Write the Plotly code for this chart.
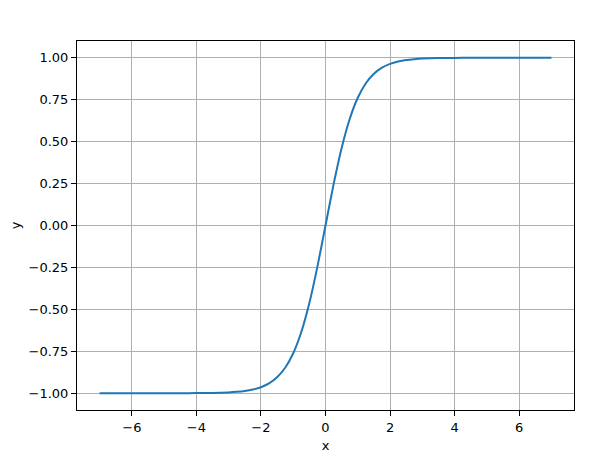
import plotly.graph_objects as go

# values
x_vals = [-7, -6, -5, -4.5, -4, -3.5, -3, -2.75, -2.5, -2.25, -2, -1.75, -1.5, -1.25, -1,
          -0.75, -0.5, -0.25, 0, 0.25, 0.5, 0.75, 1, 1.25, 1.5, 1.75, 2, 2.25, 2.5,
          2.75, 3, 3.5, 4, 4.5, 5, 6, 7]
y_vals = [-1.000, -1.000, -0.9999, -0.9998, -0.9993, -0.9982, -0.9951, -0.9918, -0.9866,
          -0.9780, -0.9640, -0.9414, -0.9051, -0.8483, -0.7616, -0.6351, -0.4621, -0.2449,
          0.000, 0.2449, 0.4621, 0.6351, 0.7616, 0.8483, 0.9051, 0.9414, 0.9640, 0.9780,
          0.9866, 0.9918, 0.9951, 0.9982, 0.9993, 0.9998, 0.9999, 1.000, 1.000]
x_ticks = [-6, -4, -2, 0, 2, 4, 6]
y_ticks = [-1.00, -0.75, -0.50, -0.25, 0.00, 0.25, 0.50, 0.75, 1.00]

fig = go.Figure(go.Scatter(
    x=x_vals, y=y_vals, mode="lines",
    line=dict(color="#1f77b4", width=2, shape="spline", smoothing=0.5),
    showlegend=False,
))

font = dict(family="DejaVu Sans", size=13, color="black")
axis_common = dict(
    showline=True, linecolor="black", linewidth=1, mirror=True,
    ticks="outside", ticklen=5, tickwidth=1, tickcolor="black",
    showgrid=True, gridcolor="#b0b0b0", gridwidth=1,
    zeroline=False, tickfont=font, automargin=False,
)
fig.update_layout(
    width=592, height=460,
    margin=dict(l=69, r=26, t=33, b=58),
    paper_bgcolor="white", plot_bgcolor="white",
    font=font,
    xaxis=dict(range=[-7.7, 7.7], tickvals=x_ticks,
               title=dict(text="x", font=font, standoff=7), **axis_common),
    yaxis=dict(range=[-1.1, 1.1], tickvals=y_ticks, tickformat=".2f",
               title=dict(text="y", font=font, standoff=11), **axis_common),
)
fig.write_html("out.html")
